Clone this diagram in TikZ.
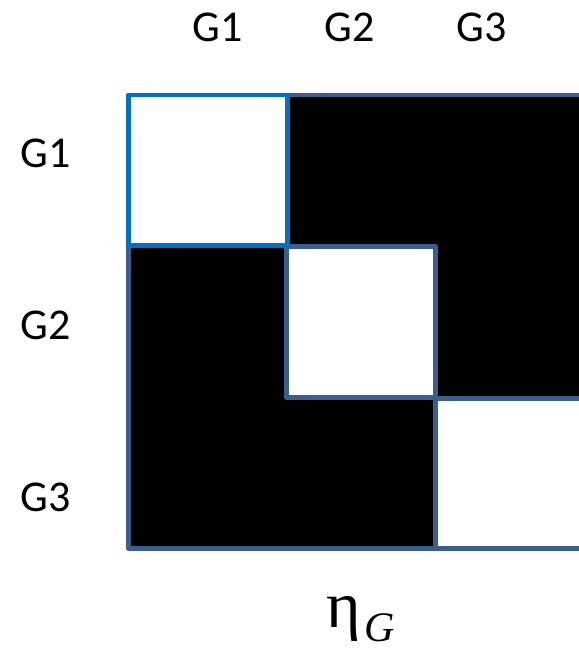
\documentclass[tikz,border=0pt]{standalone}
\usepackage{fontspec}
\setmainfont{Carlito}
\newfontfamily\etafont{Liberation Serif}
\definecolor{frameblue}{HTML}{3B5E8C}
\definecolor{brightblue}{HTML}{0070C0}
\begin{document}
\begin{tikzpicture}[x=1pt,y=-1pt,
  lbl/.style={font=\fontsize{44}{44}\selectfont, inner sep=0pt},
  cell/.style={draw=frameblue, line width=4.5pt, line join=round, fill=white, inner sep=0pt, anchor=north west}]
\useasboundingbox (0,0) rectangle (578,650);
% outer black matrix
\node[draw=frameblue, line width=4.5pt, line join=round, fill=black, inner sep=0pt, anchor=north west,
      minimum width=453pt, minimum height=453pt] (mat) at (126,93) {};
% diagonal blocks
\node[cell, minimum width=149pt, minimum height=151pt] (b2) at (284,244) {};
\node[cell, minimum width=146pt, minimum height=150pt] (b3) at (433,396) {};
\node[cell, draw=brightblue, minimum width=159pt, minimum height=150pt] (b1) at (126,93) {};
% labels
\node[lbl] (t1) at (218,27) {G1};
\node[lbl] (t2) at (350,27) {G2};
\node[lbl] (t3) at (482,27) {G3};
\node[lbl] (l1) at (46,153) {G1};
\node[lbl] (l2) at (46,325) {G2};
\node[lbl] (l3) at (46,497) {G3};
\node[inner sep=0pt, anchor=base west] (eta) at (326,627)
  {\etafont\fontsize{66}{66}\selectfont η\hspace{4pt}\raisebox{-14pt}{\fontsize{42}{42}\selectfont\itshape G}};
\end{tikzpicture}
\end{document}
